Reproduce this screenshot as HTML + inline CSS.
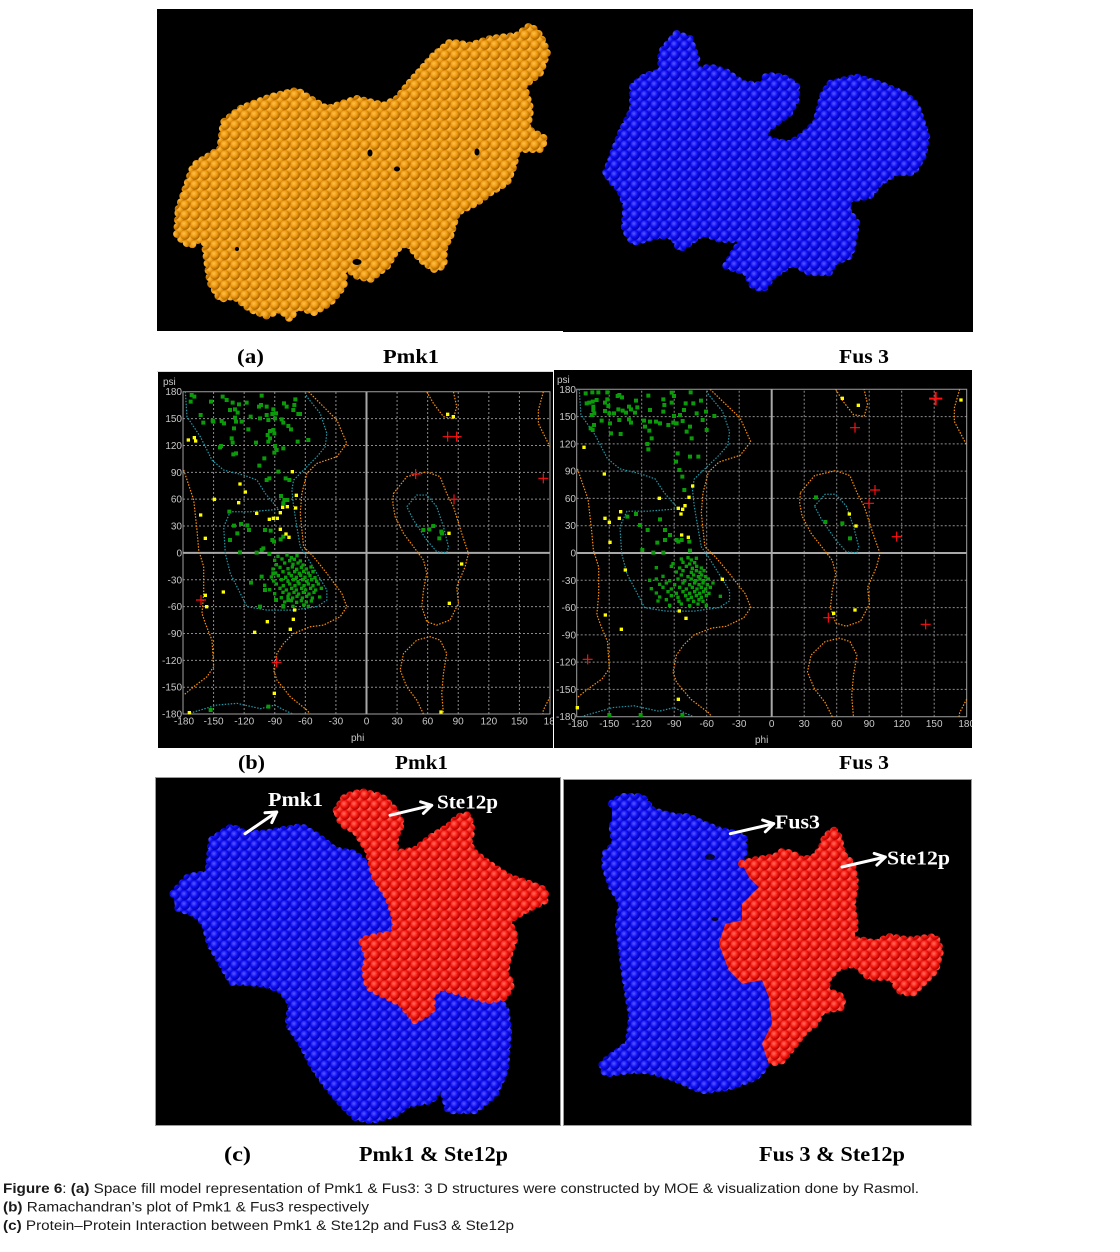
<!DOCTYPE html>
<html>
<head>
<meta charset="utf-8">
<style>
html,body{margin:0;padding:0;background:#fff;}
svg{display:block;}
</style>
</head>
<body>
<svg xmlns="http://www.w3.org/2000/svg" xmlns:xlink="http://www.w3.org/1999/xlink" width="1120" height="1252" viewBox="0 0 1120 1252">
<defs>
  <radialGradient id="gO" cx="0.38" cy="0.35" r="0.65">
    <stop offset="0" stop-color="#ffc24c"/>
    <stop offset="0.55" stop-color="#ec970f"/>
    <stop offset="1" stop-color="#a86200"/>
  </radialGradient>
  <radialGradient id="gB" cx="0.38" cy="0.35" r="0.65">
    <stop offset="0" stop-color="#5a5aff"/>
    <stop offset="0.55" stop-color="#1010f6"/>
    <stop offset="1" stop-color="#0000b0"/>
  </radialGradient>
  <radialGradient id="gR" cx="0.38" cy="0.35" r="0.65">
    <stop offset="0" stop-color="#ff7060"/>
    <stop offset="0.55" stop-color="#f61a12"/>
    <stop offset="1" stop-color="#b00000"/>
  </radialGradient>
  <pattern id="pO" width="10" height="10" patternUnits="userSpaceOnUse">
    <rect width="10" height="10" fill="#c47c06"/>
    <circle cx="0" cy="0" r="4.7" fill="url(#gO)"/><circle cx="10" cy="0" r="4.7" fill="url(#gO)"/>
    <circle cx="0" cy="10" r="4.7" fill="url(#gO)"/><circle cx="10" cy="10" r="4.7" fill="url(#gO)"/>
    <circle cx="5" cy="5" r="4.7" fill="url(#gO)"/>
  </pattern>
  <pattern id="pB" width="10" height="10" patternUnits="userSpaceOnUse">
    <rect width="10" height="10" fill="#0000c4"/>
    <circle cx="0" cy="0" r="4.7" fill="url(#gB)"/><circle cx="10" cy="0" r="4.7" fill="url(#gB)"/>
    <circle cx="0" cy="10" r="4.7" fill="url(#gB)"/><circle cx="10" cy="10" r="4.7" fill="url(#gB)"/>
    <circle cx="5" cy="5" r="4.7" fill="url(#gB)"/>
  </pattern>
  <pattern id="pR" width="10" height="10" patternUnits="userSpaceOnUse">
    <rect width="10" height="10" fill="#c80000"/>
    <circle cx="0" cy="0" r="4.7" fill="url(#gR)"/><circle cx="10" cy="0" r="4.7" fill="url(#gR)"/>
    <circle cx="0" cy="10" r="4.7" fill="url(#gR)"/><circle cx="10" cy="10" r="4.7" fill="url(#gR)"/>
    <circle cx="5" cy="5" r="4.7" fill="url(#gR)"/>
  </pattern>

  <g id="rama">
    <g stroke="#8c8c8c" stroke-width="1" stroke-dasharray="2 2" fill="none">
      <line vector-effect="non-scaling-stroke" x1="-150" y1="-180" x2="-150" y2="180"/>
      <line vector-effect="non-scaling-stroke" x1="-120" y1="-180" x2="-120" y2="180"/>
      <line vector-effect="non-scaling-stroke" x1="-90" y1="-180" x2="-90" y2="180"/>
      <line vector-effect="non-scaling-stroke" x1="-60" y1="-180" x2="-60" y2="180"/>
      <line vector-effect="non-scaling-stroke" x1="-30" y1="-180" x2="-30" y2="180"/>
      <line vector-effect="non-scaling-stroke" x1="30" y1="-180" x2="30" y2="180"/>
      <line vector-effect="non-scaling-stroke" x1="60" y1="-180" x2="60" y2="180"/>
      <line vector-effect="non-scaling-stroke" x1="90" y1="-180" x2="90" y2="180"/>
      <line vector-effect="non-scaling-stroke" x1="120" y1="-180" x2="120" y2="180"/>
      <line vector-effect="non-scaling-stroke" x1="150" y1="-180" x2="150" y2="180"/>
      <line vector-effect="non-scaling-stroke" y1="-150" x1="-180" y2="-150" x2="180"/>
      <line vector-effect="non-scaling-stroke" y1="-120" x1="-180" y2="-120" x2="180"/>
      <line vector-effect="non-scaling-stroke" y1="-90" x1="-180" y2="-90" x2="180"/>
      <line vector-effect="non-scaling-stroke" y1="-60" x1="-180" y2="-60" x2="180"/>
      <line vector-effect="non-scaling-stroke" y1="-30" x1="-180" y2="-30" x2="180"/>
      <line vector-effect="non-scaling-stroke" y1="30" x1="-180" y2="30" x2="180"/>
      <line vector-effect="non-scaling-stroke" y1="60" x1="-180" y2="60" x2="180"/>
      <line vector-effect="non-scaling-stroke" y1="90" x1="-180" y2="90" x2="180"/>
      <line vector-effect="non-scaling-stroke" y1="120" x1="-180" y2="120" x2="180"/>
      <line vector-effect="non-scaling-stroke" y1="150" x1="-180" y2="150" x2="180"/>
    </g>
    <g stroke="#a8a8a8" stroke-width="2" fill="none">
      <line vector-effect="non-scaling-stroke" x1="0" y1="-180" x2="0" y2="180"/>
      <line vector-effect="non-scaling-stroke" x1="-180" y1="0" x2="180" y2="0"/>
    </g>
    <rect vector-effect="non-scaling-stroke" x="-180" y="-180" width="360" height="360" fill="none" stroke="#a0a0a0" stroke-width="1"/>
    <g fill="none" stroke="#1f98a8" stroke-width="1.2" stroke-dasharray="1.5 1.5">
      <path vector-effect="non-scaling-stroke" d="M-177.7,180 L-176.1,152.1 -163,129.8 -151.6,103.7 -140.1,92.5 -120.5,86.9 -107.5,81.4 -99.3,66.4 -91.1,55.3 -86.2,48.6 -114,46 -133.6,46 -140.1,29.2 -138.5,-0.6 -133.6,-22.9 -123.8,-45.2 -117.3,-60.1 -97.7,-63.9 -71.5,-63.9 -48.7,-60.1 -38.9,-52.7 -38.9,-41.5 -48.7,-22.9 -58.5,-4.3 -65,6.9 -68.3,29.2 -71.5,51.6 -73.2,70.2 -71.5,81.3 -61.7,92.5 -48.7,107.4 -40.5,118.6 -38.9,133.5 -45.4,155.8 -58.5,174.4 -60.1,180"/>
      <path vector-effect="non-scaling-stroke" d="M-176,-180 L-147,-170 -127,-168 -104,-174 -90,-170 -80,-176 -72,-180"/>
      <path vector-effect="non-scaling-stroke" d="M39.5,51.6 L49.3,64.6 59.1,64.6 68.9,51.6 75.5,29.2 80.4,6.9 78.7,0.2 68.9,1.3 59.1,14.3 46.1,36.7 Z"/>
    </g>
    <g fill="none" stroke="#ff9000" stroke-width="1.2" stroke-dasharray="1.5 1.5">
      <path vector-effect="non-scaling-stroke" d="M-56.8,180 L-48.7,170.7 -35.6,155.8 -29.1,148.4 -19.3,122.3 -29.1,107.4 -48.7,100 -58.5,88.8 -63.4,66.4 -65,44.1 -61.7,6.9 -51.9,-4.3 -38.9,-22.9 -24.2,-45.2 -19.3,-60.1 -25.8,-71.3 -42.1,-80.6 -55.2,-82.5 -71.5,-89.9 -81.3,-101.1 -87.9,-112.3 -91.1,-130.9 -87.9,-142 -74.8,-160.7 -58.5,-175.5 -55.2,-180"/>
      <path vector-effect="non-scaling-stroke" d="M-179.3,92.5 L-169.5,59 -166.3,25.5 -164.6,3.2 -159.7,-15.5 -159.7,-45.2 -161.4,-67.6 -158.1,-78.7 -151.6,-97.4 -149.9,-127.1 -156.5,-138.3 -169.5,-149.5 -179.3,-158.8"/>
      <path vector-effect="non-scaling-stroke" d="M59.1,180 L65.7,167 75.5,152.1 85.3,150.2 88.5,163.2 85.3,180"/>
      <path vector-effect="non-scaling-stroke" d="M26.5,66.4 L39.5,85.1 59.1,90.6 72.2,85.1 78.7,66.4 85.3,51.6 93.4,21.8 100,-0.6 96.7,-15.5 88.5,-37.8 90.2,-56.4 82,-75 68.9,-80.6 59.1,-76.9 54.2,-60.1 55.9,-41.5 59.1,-22.9 55.9,-8 46.1,6.9 36.3,21.8 28.1,40.4 25.8,55.3 Z"/>
      <path vector-effect="non-scaling-stroke" d="M55.9,-180 L49.3,-164.4 39.5,-149.5 33,-130.9 36.3,-112.3 49.3,-97.4 62.4,-93.6 72.2,-97.4 78.7,-112.3 75.5,-134.6 73.8,-156.9 75.5,-180"/>
      <path vector-effect="non-scaling-stroke" d="M173.5,180 L168.6,159.5 168.6,144.6 175.1,129.7 180,118.6"/>
      <path vector-effect="non-scaling-stroke" d="M180,-160.7 L173.5,-175.5 173,-180"/>
    </g>
  </g>
  <clipPath id="clipL"><rect x="158" y="372" width="395" height="376"/></clipPath>
  <clipPath id="clipR"><rect x="554" y="370" width="418" height="378"/></clipPath>
</defs>

<rect width="1120" height="1252" fill="#fff"/>

<!-- ===== (a) top panel ===== -->
<rect x="157" y="9" width="406" height="322" fill="#000"/>
<rect x="563" y="9" width="410" height="323" fill="#000"/>

<g>
  <path d="M178.7,209 L193.7,165.7 220.3,149 223.7,122.3 240.3,109 270.3,97.3 297,90.7 310.3,99 327,109 357,99 383.7,105.7 397,99 410.3,82.3 433.7,55.7 450.3,42.3 470.3,45.7 490.3,39 517,35.7 530.3,25.7 540.3,35.7 547,52.3 540.3,72.3 523.7,85.7 530.3,109 527,129 545.3,139 540.3,149 517,149 513.7,165.7 507,182.3 490.3,192.3 477,202.3 457,212.3 450.3,235.7 443.7,249 443.7,265.7 433.7,269 420.3,259 407,242.3 397,249 387,265.7 370.3,279 357,275.7 343.7,265.7 343.7,285.7 330.3,302.3 313.7,312.3 297,305.7 290.3,319 280.3,309 267,315.7 250.3,309 233.7,295.7 220.3,299 210.3,282.3 207,259 203.7,235.7 190.3,245.7 177,235.7 Z" fill="url(#pO)"/>
  <path d="M178.7,209 L193.7,165.7 220.3,149 223.7,122.3 240.3,109 270.3,97.3 297,90.7 310.3,99 327,109 357,99 383.7,105.7 397,99 410.3,82.3 433.7,55.7 450.3,42.3 470.3,45.7 490.3,39 517,35.7 530.3,25.7 540.3,35.7 547,52.3 540.3,72.3 523.7,85.7 530.3,109 527,129 545.3,139 540.3,149 517,149 513.7,165.7 507,182.3 490.3,192.3 477,202.3 457,212.3 450.3,235.7 443.7,249 443.7,265.7 433.7,269 420.3,259 407,242.3 397,249 387,265.7 370.3,279 357,275.7 343.7,265.7 343.7,285.7 330.3,302.3 313.7,312.3 297,305.7 290.3,319 280.3,309 267,315.7 250.3,309 233.7,295.7 220.3,299 210.3,282.3 207,259 203.7,235.7 190.3,245.7 177,235.7 Z" fill="none" stroke="url(#pO)" stroke-width="8" stroke-dasharray="0 7" stroke-linecap="round"/>
  <g fill="#000">
    <ellipse cx="370" cy="153" rx="2.5" ry="3.5"/>
    <ellipse cx="397" cy="169" rx="3" ry="2.5"/>
    <ellipse cx="477" cy="152" rx="2.5" ry="3.5"/>
    <ellipse cx="357" cy="262" rx="4.5" ry="3"/>
    <ellipse cx="237" cy="249" rx="2" ry="2"/>
  </g>
</g>

<g>
  <path d="M606.3,172.3 L621.3,132.3 633,109 633,85.7 646.3,75.7 661.3,72.3 661.3,52.3 676.3,34 689.7,39 696.3,59 693,72.3 709.7,67.3 726.3,72.3 743,84 763,85.7 766.3,75.7 783,77.3 796.3,85.7 796.3,99 789.7,112.3 776.3,122.3 763,132.3 769.7,140.7 789.7,144 803,135.7 816.3,122.3 823,95.7 829.7,84 856.3,77.3 883,85.7 906.3,95.7 916.3,105.7 926.3,135.7 923,155.7 913,172.3 896.3,172.3 879.7,182.3 869.7,195.7 849.7,199 846.3,209 856.3,222.3 853,242.3 849.7,255.7 833,262.3 829.7,272.3 809.7,272.3 793,262.3 773,275.7 763,289 753,285.7 746.3,272.3 726.3,265.7 736.3,249 743,239 719.7,239 703,232.3 689.7,242.3 679.7,249 673,235.7 656.3,235.7 633,242.3 624.7,229 626.3,205.7 619.7,189 609.7,179 Z" fill="url(#pB)"/>
  <path d="M606.3,172.3 L621.3,132.3 633,109 633,85.7 646.3,75.7 661.3,72.3 661.3,52.3 676.3,34 689.7,39 696.3,59 693,72.3 709.7,67.3 726.3,72.3 743,84 763,85.7 766.3,75.7 783,77.3 796.3,85.7 796.3,99 789.7,112.3 776.3,122.3 763,132.3 769.7,140.7 789.7,144 803,135.7 816.3,122.3 823,95.7 829.7,84 856.3,77.3 883,85.7 906.3,95.7 916.3,105.7 926.3,135.7 923,155.7 913,172.3 896.3,172.3 879.7,182.3 869.7,195.7 849.7,199 846.3,209 856.3,222.3 853,242.3 849.7,255.7 833,262.3 829.7,272.3 809.7,272.3 793,262.3 773,275.7 763,289 753,285.7 746.3,272.3 726.3,265.7 736.3,249 743,239 719.7,239 703,232.3 689.7,242.3 679.7,249 673,235.7 656.3,235.7 633,242.3 624.7,229 626.3,205.7 619.7,189 609.7,179 Z" fill="none" stroke="url(#pB)" stroke-width="8" stroke-dasharray="0 7" stroke-linecap="round"/>
</g>

<g font-family="'Liberation Serif', serif" font-weight="bold" font-size="20" fill="#000">
  <text x="237" y="363" textLength="27" lengthAdjust="spacingAndGlyphs">(a)</text>
  <text x="383" y="363" textLength="56" lengthAdjust="spacingAndGlyphs">Pmk1</text>
  <text x="839" y="363" textLength="50" lengthAdjust="spacingAndGlyphs">Fus 3</text>
</g>

<!-- ===== (b) Ramachandran plots ===== -->
<rect x="158" y="372" width="395" height="376" fill="#000"/>
<line x1="157" y1="371.5" x2="553" y2="371.5" stroke="#d8d8d8" stroke-width="1"/>
<rect x="554" y="370" width="418" height="378" fill="#000"/>

<g clip-path="url(#clipL)">
  <use xlink:href="#rama" href="#rama" transform="translate(366.5,552.9) scale(1.0194,-0.8953)"/>
  <g transform="translate(150,360) scale(0.33333)">
    <g transform="translate(-6,-6)" fill="#0a9a0a">
      <path d="M125,105h12v12h-12zM133,110h12v12h-12zM122,125h12v12h-12zM183,125h12v12h-12zM218,110h12v12h-12zM230,120h12v12h-12zM248,128h12v12h-12zM267,133h12v12h-12zM240,150h12v12h-12zM255,148h12v12h-12zM263,158h12v12h-12zM290,128h12v12h-12zM335,107h12v12h-12zM327,140h12v12h-12zM333,135h12v12h-12zM350,140h12v12h-12zM370,148h12v12h-12zM378,160h12v12h-12zM367,162h12v12h-12zM402,130h12v12h-12zM410,140h12v12h-12zM436,118h12v12h-12zM433,135h12v12h-12zM430,150h12v12h-12zM445,162h12v12h-12zM450,162h12v12h-12zM152,165h12v12h-12zM160,188h12v12h-12zM188,182h12v12h-12zM190,185h12v12h-12zM215,183h12v12h-12zM222,190h12v12h-12zM255,173h12v12h-12zM258,185h12v12h-12zM275,185h12v12h-12zM302,170h12v12h-12zM295,208h12v12h-12zM330,175h12v12h-12zM350,165h12v12h-12zM355,180h12v12h-12zM375,175h12v12h-12zM395,178h12v12h-12zM400,188h12v12h-12zM415,198h12v12h-12zM423,208h12v12h-12zM360,213h12v12h-12zM370,210h12v12h-12zM373,220h12v12h-12zM353,225h12v12h-12zM360,235h12v12h-12zM355,245h12v12h-12zM252,205h12v12h-12zM245,235h12v12h-12zM248,248h12v12h-12zM213,258h12v12h-12zM210,262h12v12h-12zM250,283h12v12h-12zM258,280h12v12h-12zM318,248h12v12h-12zM343,295h12v12h-12zM328,317h12v12h-12zM375,258h12v12h-12zM380,270h12v12h-12zM400,265h12v12h-12zM443,245h12v12h-12zM475,240h12v12h-12zM373,278h12v12h-12zM350,360h12v12h-12zM358,355h12v12h-12zM385,335h12v12h-12zM407,355h12v12h-12zM418,360h12v12h-12zM393,408h12v12h-12zM403,420h12v12h-12zM400,430h12v12h-12zM412,420h12v12h-12zM238,455h12v12h-12zM240,540h12v12h-12zM252,497h12v12h-12zM262,520h12v12h-12zM273,492h12v12h-12zM292,496h12v12h-12zM297,510h12v12h-12zM270,577h12v12h-12zM320,578h12v12h-12zM335,570h12v12h-12zM340,565h12v12h-12zM358,582h12v12h-12zM345,510h12v12h-12zM362,512h12v12h-12zM367,540h12v12h-12zM372,545h12v12h-12zM392,538h12v12h-12zM400,530h12v12h-12zM303,668h12v12h-12zM335,650h12v12h-12zM345,690h12v12h-12zM330,740h12v12h-12zM378,720h12v12h-12zM400,740h12v12h-12zM415,720h12v12h-12zM370,640h12v12h-12zM820,510h12v12h-12zM838,508h12v12h-12zM850,498h12v12h-12zM868,535h12v12h-12zM874,515h12v12h-12zM876,520h12v12h-12zM182,1050h12v12h-12zM355,1040h12v12h-12z"/>
      <path d="M385,590h10v10h-10zM412,586h10v10h-10zM425,594h10v10h-10zM442,588h10v10h-10zM375,602h10v10h-10zM397,598h10v10h-10zM420,603h10v10h-10zM434,599h10v10h-10zM452,604h10v10h-10zM380,615h10v10h-10zM405,610h10v10h-10zM430,614h10v10h-10zM445,610h10v10h-10zM460,616h10v10h-10zM370,628h10v10h-10zM391,623h10v10h-10zM415,627h10v10h-10zM428,622h10v10h-10zM441,629h10v10h-10zM455,623h10v10h-10zM470,628h10v10h-10zM484,622h10v10h-10zM378,640h10v10h-10zM400,636h10v10h-10zM418,641h10v10h-10zM435,636h10v10h-10zM449,641h10v10h-10zM462,635h10v10h-10zM476,640h10v10h-10zM490,636h10v10h-10zM365,652h10v10h-10zM386,648h10v10h-10zM408,653h10v10h-10zM425,648h10v10h-10zM440,653h10v10h-10zM453,647h10v10h-10zM466,653h10v10h-10zM481,648h10v10h-10zM496,654h10v10h-10zM372,664h10v10h-10zM395,660h10v10h-10zM415,665h10v10h-10zM431,660h10v10h-10zM445,666h10v10h-10zM459,660h10v10h-10zM472,665h10v10h-10zM486,660h10v10h-10zM501,665h10v10h-10zM345,677h10v10h-10zM380,673h10v10h-10zM401,678h10v10h-10zM420,673h10v10h-10zM436,678h10v10h-10zM448,672h10v10h-10zM463,678h10v10h-10zM476,673h10v10h-10zM490,678h10v10h-10zM506,673h10v10h-10zM360,690h10v10h-10zM391,686h10v10h-10zM410,691h10v10h-10zM426,686h10v10h-10zM440,691h10v10h-10zM456,686h10v10h-10zM468,691h10v10h-10zM483,686h10v10h-10zM498,691h10v10h-10zM515,686h10v10h-10zM375,702h10v10h-10zM400,698h10v10h-10zM418,703h10v10h-10zM433,698h10v10h-10zM447,703h10v10h-10zM461,698h10v10h-10zM478,703h10v10h-10zM493,698h10v10h-10zM395,714h10v10h-10zM415,710h10v10h-10zM429,715h10v10h-10zM442,710h10v10h-10zM458,715h10v10h-10zM471,710h10v10h-10zM488,715h10v10h-10zM510,712h10v10h-10zM405,727h10v10h-10zM425,723h10v10h-10zM441,728h10v10h-10zM455,723h10v10h-10zM470,727h10v10h-10zM485,724h10v10h-10zM400,738h10v10h-10zM430,740h10v10h-10zM462,736h10v10h-10zM476,740h10v10h-10z"/>
    </g>
    <g transform="translate(-5,-5)" fill="#ffff00">
      <path d="M115,240h10v10h-10zM133,233h10v10h-10zM137,243h10v10h-10zM193,418h10v10h-10zM152,465h10v10h-10zM166,535h10v10h-10zM166,706h10v10h-10zM170,740h10v10h-10zM220,696h10v10h-10zM270,372h10v10h-10zM286,396h10v10h-10zM266,428h10v10h-10zM320,460h10v10h-10zM358,478h10v10h-10zM370,475h10v10h-10zM382,475h10v10h-10zM391,458h10v10h-10zM398,442h10v10h-10zM412,440h10v10h-10zM437,444h10v10h-10zM427,335h10v10h-10zM439,406h10v10h-10zM391,508h10v10h-10zM408,522h10v10h-10zM417,532h10v10h-10zM352,785h10v10h-10zM314,817h10v10h-10zM421,808h10v10h-10zM430,778h10v10h-10zM434,750h10v10h-10zM373,1000h10v10h-10zM118,1058h10v10h-10zM893,163h10v10h-10zM910,170h10v10h-10zM897,520h10v10h-10zM898,730h10v10h-10zM935,612h10v10h-10zM873,1056h10v10h-10z"/>
    </g>
    <path fill="none" stroke="#ff1010" stroke-width="3.5" d="M893,230m-15,0h30m-15,-15v30M920,230m-15,0h30m-15,-15v30M797,342m-15,0h30m-15,-15v30M912,418m-15,0h30m-15,-15v30M153,720m-15,0h30m-15,-15v30M380,907m-15,0h30m-15,-15v30M1180,355m-15,0h30m-15,-15v30"/>
  </g>
  <g font-family="'Liberation Sans', sans-serif" font-size="10" fill="#c8c8c8">
    <g text-anchor="end">
      <text x="182" y="395.2">180</text><text x="182" y="422.1">150</text><text x="182" y="449">120</text>
      <text x="182" y="475.8">90</text><text x="182" y="502.7">60</text><text x="182" y="529.5">30</text>
      <text x="182" y="556.4">0</text><text x="182" y="583.3">-30</text><text x="182" y="610.1">-60</text>
      <text x="182" y="637">-90</text><text x="182" y="663.8">-120</text><text x="182" y="690.7">-150</text>
      <text x="182" y="717.6">-180</text>
    </g>
    <g text-anchor="middle">
      <text x="184" y="724.5">-180</text><text x="213.6" y="724.5">-150</text><text x="244.2" y="724.5">-120</text>
      <text x="274.8" y="724.5">-90</text><text x="305.3" y="724.5">-60</text><text x="335.9" y="724.5">-30</text>
      <text x="366.5" y="724.5">0</text><text x="397.1" y="724.5">30</text><text x="427.7" y="724.5">60</text>
      <text x="458.2" y="724.5">90</text><text x="488.8" y="724.5">120</text><text x="519.4" y="724.5">150</text>
      <text x="552" y="724.5">180</text>
    </g>
    <text x="163" y="385">psi</text>
    <text x="351" y="741">phi</text>
  </g>
</g>

<g clip-path="url(#clipR)">
  <use xlink:href="#rama" href="#rama" transform="translate(771.7,553) scale(1.0833,-0.9094)"/>
  <g transform="translate(550,360) scale(0.33333)">
    <g transform="translate(-6,-6)" fill="#0a9a0a">
      <path d="M107,100h12v12h-12zM127,97h12v12h-12zM145,97h12v12h-12zM172,97h12v12h-12zM110,130h12v12h-12zM118,128h12v12h-12zM128,125h12v12h-12zM140,120h12v12h-12zM130,140h12v12h-12zM130,150h12v12h-12zM133,160h12v12h-12zM125,165h12v12h-12zM165,128h12v12h-12zM172,118h12v12h-12zM175,138h12v12h-12zM165,153h12v12h-12zM178,160h12v12h-12zM155,182h12v12h-12zM122,205h12v12h-12zM128,210h12v12h-12zM132,195h12v12h-12zM192,160h12v12h-12zM203,108h12v12h-12zM208,105h12v12h-12zM216,112h12v12h-12zM205,148h12v12h-12zM218,152h12v12h-12zM208,180h12v12h-12zM180,190h12v12h-12zM183,220h12v12h-12zM212,222h12v12h-12zM228,158h12v12h-12zM237,140h12v12h-12zM243,148h12v12h-12zM255,158h12v12h-12zM262,142h12v12h-12zM237,178h12v12h-12zM243,188h12v12h-12zM258,122h12v12h-12zM295,107h12v12h-12zM300,150h12v12h-12zM282,182h12v12h-12zM300,185h12v12h-12zM318,185h12v12h-12zM340,118h12v12h-12zM343,135h12v12h-12zM340,155h12v12h-12zM365,98h12v12h-12zM372,108h12v12h-12zM365,128h12v12h-12zM372,168h12v12h-12zM378,190h12v12h-12zM398,183h12v12h-12zM402,150h12v12h-12zM407,130h12v12h-12zM422,97h12v12h-12zM430,130h12v12h-12zM440,160h12v12h-12zM453,122h12v12h-12zM458,180h12v12h-12zM468,155h12v12h-12zM470,210h12v12h-12zM493,168h12v12h-12zM285,200h12v12h-12zM298,212h12v12h-12zM305,235h12v12h-12zM292,252h12v12h-12zM295,268h12v12h-12zM330,190h12v12h-12zM355,195h12v12h-12zM370,188h12v12h-12zM380,190h12v12h-12zM390,165h12v12h-12zM410,215h12v12h-12zM425,235h12v12h-12zM420,200h12v12h-12zM383,280h12v12h-12zM378,305h12v12h-12zM388,330h12v12h-12zM397,350h12v12h-12zM403,390h12v12h-12zM420,290h12v12h-12zM445,290h12v12h-12zM232,470h12v12h-12zM258,462h12v12h-12zM270,495h12v12h-12zM293,510h12v12h-12zM330,478h12v12h-12zM345,510h12v12h-12zM322,548h12v12h-12zM345,540h12v12h-12zM310,578h12v12h-12zM277,570h12v12h-12zM340,578h12v12h-12zM360,525h12v12h-12zM380,540h12v12h-12zM385,545h12v12h-12zM395,540h12v12h-12zM418,545h12v12h-12zM420,572h12v12h-12zM798,412h12v12h-12zM826,486h12v12h-12zM877,490h12v12h-12zM900,535h12v12h-12zM178,1065h12v12h-12zM272,1065h12v12h-12zM397,1065h12v12h-12z"/>
      <path d="M395,598h10v10h-10zM415,594h10v10h-10zM425,601h10v10h-10zM440,596h10v10h-10zM370,612h10v10h-10zM400,608h10v10h-10zM420,613h10v10h-10zM435,609h10v10h-10zM320,624h10v10h-10zM365,620h10v10h-10zM390,625h10v10h-10zM410,620h10v10h-10zM428,626h10v10h-10zM441,620h10v10h-10zM455,625h10v10h-10zM380,637h10v10h-10zM400,633h10v10h-10zM425,638h10v10h-10zM440,633h10v10h-10zM451,638h10v10h-10zM463,633h10v10h-10zM340,650h10v10h-10zM395,646h10v10h-10zM415,651h10v10h-10zM432,646h10v10h-10zM446,651h10v10h-10zM456,646h10v10h-10zM468,651h10v10h-10zM300,662h10v10h-10zM320,658h10v10h-10zM360,663h10v10h-10zM385,658h10v10h-10zM405,663h10v10h-10zM425,658h10v10h-10zM438,663h10v10h-10zM451,658h10v10h-10zM462,663h10v10h-10zM476,658h10v10h-10zM330,674h10v10h-10zM350,670h10v10h-10zM375,675h10v10h-10zM400,670h10v10h-10zM420,675h10v10h-10zM435,670h10v10h-10zM448,675h10v10h-10zM460,670h10v10h-10zM473,675h10v10h-10zM490,670h10v10h-10zM305,687h10v10h-10zM340,683h10v10h-10zM365,688h10v10h-10zM390,683h10v10h-10zM410,688h10v10h-10zM428,683h10v10h-10zM442,688h10v10h-10zM455,683h10v10h-10zM468,688h10v10h-10zM482,683h10v10h-10zM320,700h10v10h-10zM355,696h10v10h-10zM380,701h10v10h-10zM400,696h10v10h-10zM420,701h10v10h-10zM435,696h10v10h-10zM450,701h10v10h-10zM462,696h10v10h-10zM478,701h10v10h-10zM330,712h10v10h-10zM365,708h10v10h-10zM385,713h10v10h-10zM408,708h10v10h-10zM425,713h10v10h-10zM440,708h10v10h-10zM455,713h10v10h-10zM470,708h10v10h-10zM512,710h10v10h-10zM325,724h10v10h-10zM350,720h10v10h-10zM388,725h10v10h-10zM415,720h10v10h-10zM432,725h10v10h-10zM448,720h10v10h-10zM460,725h10v10h-10zM360,737h10v10h-10zM395,733h10v10h-10zM420,738h10v10h-10zM445,733h10v10h-10zM470,737h10v10h-10z"/>
    </g>
    <g transform="translate(-5,-5)" fill="#ffff00">
      <path d="M102,262h10v10h-10zM163,342h10v10h-10zM165,475h10v10h-10zM178,487h10v10h-10zM180,547h10v10h-10zM212,455h10v10h-10zM208,475h10v10h-10zM226,630h10v10h-10zM328,415h10v10h-10zM428,378h10v10h-10zM417,412h10v10h-10zM385,445h10v10h-10zM398,448h10v10h-10zM393,462h10v10h-10zM405,437h10v10h-10zM395,525h10v10h-10zM415,532h10v10h-10zM517,658h10v10h-10zM388,753h10v10h-10zM408,775h10v10h-10zM166,765h10v10h-10zM214,808h10v10h-10zM385,1018h10v10h-10zM82,1043h10v10h-10zM877,115h10v10h-10zM925,136h10v10h-10zM1233,120h10v10h-10zM898,462h10v10h-10zM918,498h10v10h-10zM915,750h10v10h-10zM851,760h10v10h-10z"/>
    </g>
    <path fill="none" stroke="#ff1010" stroke-width="3.5" d="M915,203m-15,0h30m-15,-15v30M975,390m-15,0h30m-15,-15v30M957,430m-15,0h30m-15,-15v30M1040,530m-15,0h30m-15,-15v30M835,773m-15,0h30m-15,-15v30M1127,793m-15,0h30m-15,-15v30M113,898m-15,0h30m-15,-15v30"/>
    <path fill="none" stroke="#ff1010" stroke-width="6" d="M1157,116m-20,0h40m-20,-20v40"/>
  </g>
  <g font-family="'Liberation Sans', sans-serif" font-size="10" fill="#c8c8c8">
    <g text-anchor="end">
      <text x="576" y="392.8">180</text><text x="576" y="420.1">150</text><text x="576" y="447.4">120</text>
      <text x="576" y="474.7">90</text><text x="576" y="501.9">60</text><text x="576" y="529.2">30</text>
      <text x="576" y="556.5">0</text><text x="576" y="583.8">-30</text><text x="576" y="611.1">-60</text>
      <text x="576" y="638.3">-90</text><text x="576" y="665.6">-120</text><text x="576" y="692.9">-150</text>
      <text x="576" y="720.2">-180</text>
    </g>
    <g text-anchor="middle">
      <text x="578" y="727">-180</text><text x="609.2" y="727">-150</text><text x="641.7" y="727">-120</text>
      <text x="674.2" y="727">-90</text><text x="706.7" y="727">-60</text><text x="739.2" y="727">-30</text>
      <text x="771.7" y="727">0</text><text x="804.2" y="727">30</text><text x="836.7" y="727">60</text>
      <text x="869.2" y="727">90</text><text x="901.7" y="727">120</text><text x="934.2" y="727">150</text>
      <text x="966.7" y="727">180</text>
    </g>
    <text x="557" y="383">psi</text>
    <text x="755" y="743">phi</text>
  </g>
</g>

<g font-family="'Liberation Serif', serif" font-weight="bold" font-size="20" fill="#000">
  <text x="238" y="769" textLength="27" lengthAdjust="spacingAndGlyphs">(b)</text>
  <text x="395" y="769" textLength="53" lengthAdjust="spacingAndGlyphs">Pmk1</text>
  <text x="839" y="769" textLength="50" lengthAdjust="spacingAndGlyphs">Fus 3</text>
</g>

<!-- ===== (c) interaction panels ===== -->
<rect x="155.5" y="777.5" width="405" height="348" fill="#000" stroke="#9a9a9a" stroke-width="1"/>
<rect x="563.5" y="779.5" width="408" height="346" fill="#000" stroke="#9a9a9a" stroke-width="1"/>

<g>
  <path d="M173.3,893.7 L188.3,877 208.3,873.7 211.7,840.3 231.7,827 245,833.7 265,833.7 281.7,830.3 301.7,827 318.3,837 335,850.3 355,853.7 371.7,870.3 388.3,883.7 395,917 395,943.7 388.3,977 421.7,983.7 448.3,987 468.3,990.3 491.7,997 505,1007 508.3,1030.3 505,1070.3 495,1093.7 475,1110.3 448.3,1110.3 441.7,1083.7 431.7,1100.3 408.3,1103.7 395,1113.7 371.7,1120.3 355,1117 341.7,1103.7 325,1083.7 311.7,1063.7 301.7,1043.7 288.3,1023.7 291.7,1003.7 281.7,990.3 265,983.7 245,982 231.7,982 221.7,963.7 210,943.7 205,923.7 191.7,910.3 175,907 Z" fill="url(#pB)"/>
  <path d="M173.3,893.7 L188.3,877 208.3,873.7 211.7,840.3 231.7,827 245,833.7 265,833.7 281.7,830.3 301.7,827 318.3,837 335,850.3 355,853.7 371.7,870.3 388.3,883.7 M388.3,977 L421.7,983.7 448.3,987 468.3,990.3 491.7,997 505,1007 508.3,1030.3 505,1070.3 495,1093.7 475,1110.3 448.3,1110.3 441.7,1083.7 431.7,1100.3 408.3,1103.7 395,1113.7 371.7,1120.3 355,1117 341.7,1103.7 325,1083.7 311.7,1063.7 301.7,1043.7 288.3,1023.7 291.7,1003.7 281.7,990.3 265,983.7 245,982 231.7,982 221.7,963.7 210,943.7 205,923.7 191.7,910.3 175,907 Z" fill="none" stroke="url(#pB)" stroke-width="8" stroke-dasharray="0 7" stroke-linecap="round"/>
  <path d="M336.7,810.3 L345,797 361.7,792 381.7,797 395,810.3 401.7,823.7 395,837 395,853.7 415,850.3 431.7,837 448.3,827 458.3,817 468.3,815.3 471.7,830.3 468.3,843.7 475,853.7 488.3,863.7 508.3,877 528.3,883.7 545,890.3 545,900.3 525,910.3 508.3,920.3 515,937 508.3,957 505,973.7 511.7,983.7 505,997 488.3,1000.3 465,993.7 441.7,987 431.7,993.7 431.7,1010.3 415,1020.3 401.7,1003.7 388.3,997 368.3,987 365,970.3 368.3,957 361.7,940.3 375,937 395,933.7 395,917 388.3,897 375,877 371.7,863.7 368.3,850.3 355,830.3 341.7,823.7 Z" fill="url(#pR)"/>
  <path d="M336.7,810.3 L345,797 361.7,792 381.7,797 395,810.3 401.7,823.7 395,837 395,853.7 415,850.3 431.7,837 448.3,827 458.3,817 468.3,815.3 471.7,830.3 468.3,843.7 475,853.7 488.3,863.7 508.3,877 528.3,883.7 545,890.3 545,900.3 525,910.3 508.3,920.3 515,937 508.3,957 505,973.7 511.7,983.7 505,997 488.3,1000.3 465,993.7 441.7,987 431.7,993.7 431.7,1010.3 415,1020.3 401.7,1003.7 388.3,997 368.3,987 365,970.3 368.3,957 361.7,940.3 375,937 395,933.7 395,917 388.3,897 375,877 371.7,863.7 368.3,850.3 355,830.3 341.7,823.7 Z" fill="none" stroke="url(#pR)" stroke-width="8" stroke-dasharray="0 7" stroke-linecap="round"/>
</g>

<g>
  <path d="M612,803.7 L622,797 642,797 652,810.3 662,813.7 675.3,817 688.7,817 702,823.7 718.7,830.3 735.3,833.7 743.7,837 743.7,857 758.7,887 742,903.7 742,920.3 725.3,923.7 718.7,943.7 728.7,970.3 742,983.7 762,980.3 768.7,997 772,1023.7 762,1043.7 765.3,1067 755.3,1077 728.7,1087 702,1090.3 672,1077 648.7,1070.3 628.7,1070.3 605.3,1073.7 602,1063.7 615.3,1053.7 628.7,1043.7 632,1017 625.3,977 622,950.3 618.7,923.7 622,903.7 612,887 605.3,867 605.3,853.7 615.3,843.7 612,823.7 Z" fill="url(#pB)"/>
  <path d="M612,803.7 L622,797 642,797 652,810.3 662,813.7 675.3,817 688.7,817 702,823.7 718.7,830.3 735.3,833.7 743.7,837 743.7,857 M762,1043.7 L765.3,1067 755.3,1077 728.7,1087 702,1090.3 672,1077 648.7,1070.3 628.7,1070.3 605.3,1073.7 602,1063.7 615.3,1053.7 628.7,1043.7 632,1017 625.3,977 622,950.3 618.7,923.7 622,903.7 612,887 605.3,867 605.3,853.7 615.3,843.7 612,823.7 Z" fill="none" stroke="url(#pB)" stroke-width="8" stroke-dasharray="0 7" stroke-linecap="round"/>
  <g fill="#000" opacity="0.75">
    <ellipse cx="710" cy="857" rx="5" ry="3"/>
    <ellipse cx="715" cy="919" rx="3.5" ry="2"/>
  </g>
  <path d="M742,863.7 L755.3,860.3 775.3,857 782,852 792,853.7 802,860.3 815.3,857 822,847 825.3,837 833.7,830.3 838.7,837 842,853.7 852,863.7 855.3,883.7 852,903.7 855.3,927 848.7,940.3 862,940.3 875.3,943.7 888.7,937 908.7,940.3 935.3,937 940.3,950.3 935.3,970.3 922,983.7 912,993.7 898.7,990.3 892,977 868.7,977 855.3,963.7 838.7,967 828.7,977 825.3,990.3 842,997 842,1007 822,1010.3 815.3,1023.7 805.3,1030.3 795.3,1043.7 782,1060.3 768.7,1063.7 762,1043.7 772,1023.7 768.7,997 762,980.3 742,983.7 728.7,970.3 718.7,943.7 725.3,923.7 742,920.3 742,903.7 758.7,887 748.7,877 Z" fill="url(#pR)"/>
  <path d="M742,863.7 L755.3,860.3 775.3,857 782,852 792,853.7 802,860.3 815.3,857 822,847 825.3,837 833.7,830.3 838.7,837 842,853.7 852,863.7 855.3,883.7 852,903.7 855.3,927 848.7,940.3 862,940.3 875.3,943.7 888.7,937 908.7,940.3 935.3,937 940.3,950.3 935.3,970.3 922,983.7 912,993.7 898.7,990.3 892,977 868.7,977 855.3,963.7 838.7,967 828.7,977 825.3,990.3 842,997 842,1007 822,1010.3 815.3,1023.7 805.3,1030.3 795.3,1043.7 782,1060.3 768.7,1063.7" fill="none" stroke="url(#pR)" stroke-width="8" stroke-dasharray="0 7" stroke-linecap="round"/>
</g>

<g stroke="#fff" stroke-width="3" fill="none" stroke-linecap="round" stroke-linejoin="round">
  <line x1="245" y1="833.7" x2="276.7" y2="812"/>
  <polyline points="265,812.8 276.7,812 271.8,822.6"/>
  <line x1="390" y1="815.3" x2="431.7" y2="805.3"/>
  <polyline points="420.6,801.8 431.7,805.3 423.4,813.4"/>
  <line x1="730.3" y1="833.7" x2="773.7" y2="823.7"/>
  <polyline points="762.6,820.1 773.7,823.7 765.3,831.8"/>
  <line x1="842" y1="867" x2="885.3" y2="857"/>
  <polyline points="874.2,853.4 885.3,857 876.9,865.1"/>
</g>
<g font-family="'Liberation Serif', serif" font-weight="bold" font-size="20" fill="#fff">
  <text x="268" y="806" textLength="55" lengthAdjust="spacingAndGlyphs">Pmk1</text>
  <text x="437" y="808.5" textLength="61" lengthAdjust="spacingAndGlyphs">Ste12p</text>
  <text x="775" y="828.5" textLength="45" lengthAdjust="spacingAndGlyphs">Fus3</text>
  <text x="887" y="864.5" textLength="63" lengthAdjust="spacingAndGlyphs">Ste12p</text>
</g>

<g font-family="'Liberation Serif', serif" font-weight="bold" font-size="21" fill="#000">
  <text x="224" y="1161" textLength="27" lengthAdjust="spacingAndGlyphs">(c)</text>
  <text x="359" y="1161" textLength="149" lengthAdjust="spacingAndGlyphs">Pmk1 &amp; Ste12p</text>
  <text x="759" y="1161" textLength="146" lengthAdjust="spacingAndGlyphs">Fus 3 &amp; Ste12p</text>
</g>

<g font-family="'Liberation Sans', Arial, sans-serif" font-size="13.5" fill="#1a1a1a">
  <text x="3" y="1193" textLength="916" lengthAdjust="spacingAndGlyphs"><tspan font-weight="bold">Figure 6</tspan>: <tspan font-weight="bold">(a)</tspan> Space fill model representation of Pmk1 &amp; Fus3: 3 D structures were constructed by MOE &amp; visualization done by Rasmol.</text>
  <text x="3" y="1211.5" textLength="366" lengthAdjust="spacingAndGlyphs"><tspan font-weight="bold">(b)</tspan> Ramachandran’s plot of Pmk1 &amp; Fus3 respectively</text>
  <text x="3" y="1230" textLength="511" lengthAdjust="spacingAndGlyphs"><tspan font-weight="bold">(c)</tspan> Protein–Protein Interaction between Pmk1 &amp; Ste12p and Fus3 &amp; Ste12p</text>
</g>
</svg>
</body>
</html>
